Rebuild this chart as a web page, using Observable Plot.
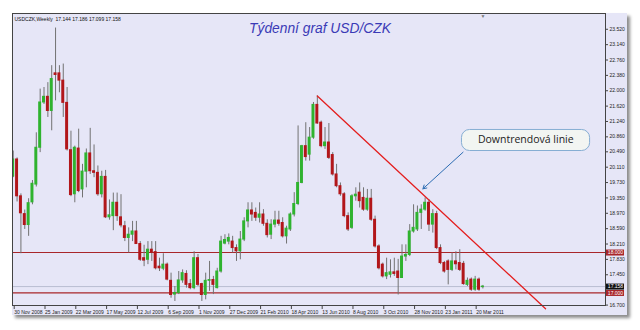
<!DOCTYPE html>
<html>
<head>
<meta charset="utf-8">
<script src="https://cdn.jsdelivr.net/npm/d3@7"></script>
<script src="https://cdn.jsdelivr.net/npm/@observablehq/plot@0.6"></script>
<style>
  body { margin: 0; background: #ffffff; }
  #wrap { position: relative; width: 640px; height: 330px; overflow: hidden; }
  #panel { position: absolute; left: 12px; top: 13px; width: 615px; height: 302px;
           background: #e6e6f7; box-shadow: 3px 3px 3px rgba(0,0,0,0.45); }
  #chart { position: absolute; left: 0; top: 0; }
</style>
</head>
<body>
<div id="wrap"><div id="panel"></div><div id="chart"></div></div>
<script>
// ---- data (weekly USD/CZK, first bar = week of 30 Nov 2008) ----
const firstWeek = "2008-11-30";
const open = [19.88,20.30,19.39,18.95,18.68,19.24,19.68,20.59,21.71,21.85,21.50,22.43,22.43,22.25,21.70,20.53,19.44,20.57,19.56,20.00,
20.45,20.01,19.97,19.44,19.87,18.87,18.90,19.23,18.87,18.65,18.36,18.44,18.52,18.21,17.86,17.82,18.07,18.01,17.65,17.60,
17.70,17.30,16.96,17.00,17.31,17.47,17.22,17.12,17.86,17.22,16.95,17.30,17.32,17.12,17.53,18.22,18.27,18.27,18.11,18.03,
18.32,18.77,19.04,18.98,18.86,18.94,18.71,18.44,18.69,18.79,18.73,18.40,18.57,18.94,19.20,19.72,20.63,20.42,20.84,21.65,
21.21,20.63,20.72,20.41,19.93,19.64,19.44,18.90,18.61,19.39,19.48,19.35,19.06,19.33,18.81,18.15,17.70,17.41,17.45,17.51,
17.53,17.37,17.90,17.94,18.52,18.57,18.98,19.06,19.23,18.69,18.95,18.11,17.74,17.78,17.57,17.78,17.74,17.72,17.20,17.33,
17.08,17.33,17.144];
const high = [20.51,20.34,19.45,19.05,19.33,19.78,20.96,22.04,22.08,22.20,22.62,23.55,22.62,22.66,22.08,21.00,20.63,21.05,20.18,20.56,
21.07,20.66,20.14,20.01,20.03,19.30,19.47,19.47,19.43,18.77,18.61,18.77,18.77,18.27,18.18,18.27,18.27,18.27,17.86,17.97,
17.74,17.49,17.16,17.53,17.57,17.55,17.33,18.02,17.95,17.24,17.49,17.78,17.41,17.61,18.40,18.44,18.46,18.40,18.19,18.52,
18.86,19.23,19.23,19.10,19.23,19.06,18.81,18.81,19.02,19.02,18.86,18.65,18.98,19.48,21.13,20.65,21.21,21.09,21.71,21.87,
21.25,21.09,21.19,20.47,20.18,19.72,19.48,18.98,19.43,19.60,19.72,19.60,19.56,19.56,18.90,18.19,17.74,17.86,17.82,17.86,
17.83,18.19,18.19,18.69,19.18,19.15,19.18,19.35,19.31,19.06,19.02,18.19,17.78,17.82,17.99,18.02,18.07,17.78,17.37,17.37,
17.41,17.37,17.186];
const low = [19.85,19.25,17.97,18.57,18.40,19.18,19.62,20.47,21.66,21.34,21.01,21.75,21.95,21.34,20.51,19.38,19.23,19.48,19.35,19.60,
19.93,19.85,19.39,19.35,18.84,18.80,18.54,18.77,18.61,18.27,17.99,18.27,18.21,17.78,17.65,17.70,17.78,17.57,17.53,17.55,
17.30,16.87,16.79,16.96,17.24,17.12,17.08,17.08,17.16,16.79,16.83,17.04,16.96,17.10,17.49,18.19,18.19,17.99,17.78,17.82,
18.27,18.61,18.77,18.77,18.73,18.65,18.36,18.32,18.61,18.65,18.36,18.21,18.52,18.88,19.16,19.70,20.26,20.26,20.80,21.17,
20.59,20.55,20.30,19.89,19.60,19.39,18.86,18.52,18.57,19.27,19.10,19.02,19.02,18.77,18.11,17.57,17.37,17.33,17.37,17.41,
16.95,17.37,17.78,17.90,18.48,18.52,18.57,19.02,18.52,18.48,18.07,17.70,17.49,17.20,17.53,17.57,17.53,17.19,17.16,17.04,
17.04,17.04,17.099];
const close = [20.30,19.39,18.97,18.68,19.22,19.70,20.59,21.71,21.85,21.50,22.29,22.39,22.25,21.70,20.55,19.42,20.59,19.52,20.00,20.45,
20.01,19.97,19.44,19.87,18.87,18.92,19.23,18.90,18.67,18.36,18.44,18.52,18.21,17.82,17.80,18.07,17.99,17.61,17.61,17.70,
17.33,16.95,17.00,17.31,17.49,17.20,17.12,17.86,17.20,16.95,17.30,17.32,17.20,17.53,18.27,18.31,18.36,18.11,18.03,18.32,
18.77,19.04,18.94,18.86,18.94,18.71,18.43,18.69,18.79,18.71,18.40,18.59,18.94,19.20,19.72,20.63,20.36,20.84,21.65,21.19,
20.63,20.72,20.34,19.93,19.64,19.44,18.90,18.57,19.39,19.43,19.27,19.06,19.33,18.81,18.15,17.61,17.41,17.49,17.51,17.47,
17.37,17.90,17.94,18.52,18.61,18.98,19.06,19.23,18.69,18.95,18.11,17.74,17.53,17.57,17.78,17.71,17.57,17.22,17.30,17.08,
17.33,17.08,17.158];

const xTickLabels = ["30 Nov 2008","25 Jan 2009","22 Mar 2009","17 May 2009","12 Jul 2009","6 Sep 2009","1 Nov 2009",
  "27 Dec 2009","21 Feb 2010","18 Apr 2010","13 Jun 2010","8 Aug 2010","3 Oct 2010","28 Nov 2010","23 Jan 2011","20 Mar 2011"];
const yTicks = [23.52,23.14,22.76,22.38,22.00,21.62,21.24,20.86,20.49,20.11,19.73,19.35,18.97,18.59,18.21,17.83,17.45,16.70];

const levelValues = [18.0, 17.0];     // horizontal support / resistance
const bidValue = 17.158;              // current price line
const title = "Týdenní graf USD/CZK";
const header = "USDCZK,Weekly  17.144 17.186 17.099 17.158";
const trendDates = ["2010-06-06", "2011-07-26"];
const trendPrices = [21.87, 16.61];
const calloutText = "Downtrendová linie";
const calloutBoxDates = ["2011-02-24", "2011-10-15"];
const calloutBoxPrices = [21.03, 20.51];
const calloutTextDate = "2011-06-20", calloutTextPrice = 20.78;
const arrowDates = ["2011-02-26", "2010-12-15"];
const arrowPrices = [20.48, 19.575];

// ---- build ----
const parseISO = d3.utcParse("%Y-%m-%d");
const t0 = parseISO(firstWeek);
const DAY = 864e5;
const candles = open.map((o, i) => ({
  date: new Date(+t0 + i * 7 * DAY),
  open: o, high: high[i], low: low[i], close: close[i],
  up: close[i] >= o
}));
const parseTick = d3.utcParse("%d %b %Y");
const xTicks = xTickLabels.map(parseTick);
const halfBody = 2.7 * DAY;

const green = "#2fb32f", red = "#b2161a";
const lastDate = candles[candles.length - 1].date;

const chart = Plot.plot({
  width: 640, height: 330,
  marginLeft: 12, marginRight: 35, marginTop: 13, marginBottom: 25,
  style: { background: "transparent", overflow: "visible", fontFamily: "Liberation Sans, sans-serif" },
  x: { type: "utc", domain: [new Date(+t0 - 1.3 * DAY), new Date(+t0 + 1077 * DAY)] },
  y: { domain: [16.69, 23.91] },
  marks: [
    Plot.axisX({ ticks: xTicks, tickFormat: d3.utcFormat("%-d %b %Y"), tickSize: 4, tickPadding: 1,
                 textAnchor: "start", dx: 1, fontSize: 5, label: null, stroke: "#444", fill: "#222" }),
    Plot.axisY({ anchor: "right", ticks: yTicks, tickFormat: d3.format(".3f"), tickSize: 2, tickPadding: 2,
                 fontSize: 5, label: null, stroke: "#444", fill: "#222" }),
    Plot.ruleY([bidValue], { stroke: "#b9bdd2", strokeWidth: 1 }),
    Plot.ruleY(levelValues, { stroke: "#a8262a", strokeWidth: 1.2 }),
    // price labels on the axis
    Plot.ruleY(levelValues, { stroke: "#a8262a", strokeWidth: 6, insetLeft: 594, insetRight: -19 }),
    Plot.ruleY([bidValue], { stroke: "#111", strokeWidth: 6, insetLeft: 594, insetRight: -19 }),
    Plot.text(levelValues.concat([bidValue]), { y: d => d, text: d => d3.format(".3f")(d), frameAnchor: "right",
      dx: 10, fill: "white", fontSize: 5, textAnchor: "middle" }),
    // candles
    Plot.ruleX(candles, { x: "date", y1: "low", y2: "high", stroke: "#727272", strokeWidth: 1, clip: true }),
    Plot.rect(candles, { x1: d => new Date(+d.date - halfBody), x2: d => new Date(+d.date + halfBody),
      y1: "open", y2: "close", insetTop: -0.5, insetBottom: -0.5,
      fill: d => d.up ? green : red, clip: true }),
    // trend line
    Plot.line(trendDates.map((d, i) => ({ date: parseISO(d), price: trendPrices[i] })),
      { x: "date", y: "price", stroke: "#e41e1e", strokeWidth: 1.3 }),
    // callout
    Plot.rect([0], { x1: () => parseISO(calloutBoxDates[0]), x2: () => parseISO(calloutBoxDates[1]),
      y1: () => calloutBoxPrices[0], y2: () => calloutBoxPrices[1], rx: 8,
      fill: "#f2f5f2", stroke: "#86aed3", strokeWidth: 1 }),
    Plot.text([calloutText], { x: () => parseISO(calloutTextDate), y: () => calloutTextPrice, text: d => d,
      fontSize: 10.5, fill: "#222", fontFamily: "Open Sans, sans-serif" }),
    Plot.arrow([0], { x1: () => parseISO(arrowDates[0]), y1: () => arrowPrices[0],
      x2: () => parseISO(arrowDates[1]), y2: () => arrowPrices[1],
      stroke: "#2d6db3", strokeWidth: 1, headLength: 6 }),
    // titles
    Plot.text([title], { text: d => d, frameAnchor: "top", dx: 11, dy: 10, fontSize: 13.8, fontStyle: "italic",
      fill: "#3a3ab6", fontFamily: "Liberation Sans, sans-serif" }),
    Plot.text([header], { text: d => d, frameAnchor: "top-left", dx: 2, dy: 4, fontSize: 5, fill: "#111" }),
    Plot.text([lastDate], { x: d => d, text: () => "▼", frameAnchor: "top", dy: 1, fontSize: 5, fill: "#777" }),
    Plot.frame({ stroke: "#444", strokeWidth: 1 })
  ]
});
document.getElementById("chart").appendChild(chart);
</script>
</body>
</html>
